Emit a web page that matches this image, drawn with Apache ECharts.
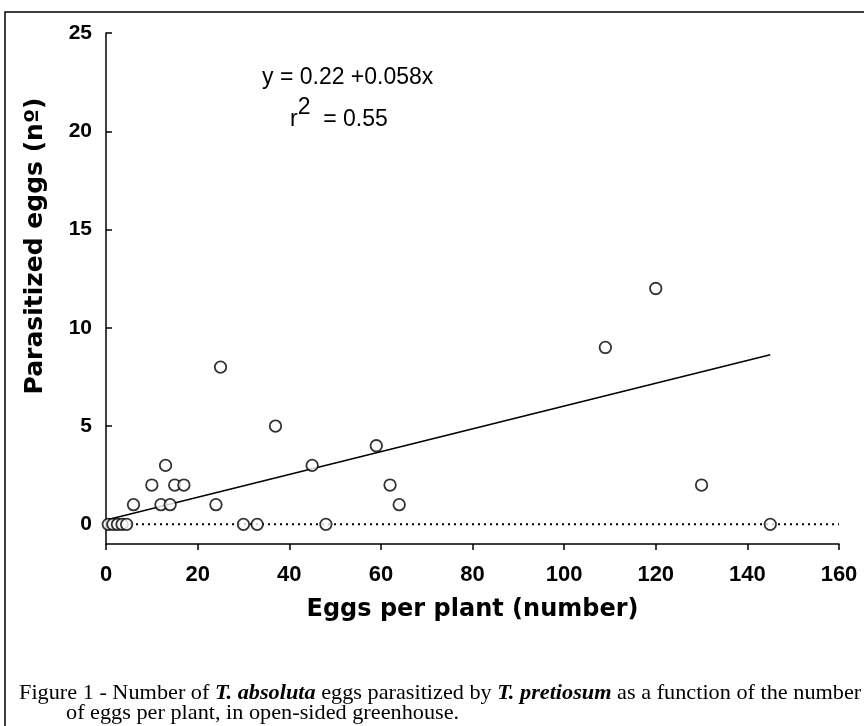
<!DOCTYPE html>
<html>
<head>
<meta charset="utf-8">
<script src="https://cdn.jsdelivr.net/npm/echarts@6/dist/echarts.min.js"></script>
<style>
  html, body { margin: 0; padding: 0; background: #fff; }
  #chart { width: 864px; height: 726px; }
</style>
</head>
<body>
<div id="chart"></div>
<script>
// eggs per plant vs parasitized eggs
var eggsPerPlant = [0.5, 1.5, 2.5, 3.5, 4.5, 6, 10, 12, 13, 14, 15, 17, 24, 25, 30, 33, 37, 45, 48, 59, 62, 64, 109, 120, 130, 145];
var parasitized  = [0, 0, 0, 0, 0, 1, 2, 1, 3, 1, 2, 2, 1, 8, 0, 0, 5, 3, 0, 4, 2, 1, 9, 12, 2, 0];
// end points of the fitted line y = 0.22 + 0.058x
var fitX = [0.5, 145];
var fitY = [0.25, 8.63];
var zeroX = [0, 160];
var zeroY = [0, 0];
var yTicks = [0, 5, 10, 15, 20, 25];

var chart = echarts.init(document.getElementById('chart'));

var points = eggsPerPlant.map(function (x, i) { return [x, parasitized[i]]; });
var fitLine = fitX.map(function (x, i) { return [x, fitY[i]]; });
var zeroLine = zeroX.map(function (x, i) { return [x, zeroY[i]]; });

var option = {
  animation: false,
  textStyle: { fontFamily: 'Liberation Sans', color: '#000' },
  grid: {
    left: 106,
    right: 25,
    top: 33,
    bottom: 182
  },
  xAxis: {
    type: 'value',
    min: 0,
    max: 160,
    interval: 20,
    name: 'Eggs per plant (number)',
    nameLocation: 'middle',
    nameGap: 54,
    nameTextStyle: { fontFamily: 'DejaVu Sans', fontSize: 24, fontWeight: 'bold', color: '#000' },
    axisLine: { onZero: false, lineStyle: { color: '#000', width: 1.5 } },
    axisTick: { inside: false, length: 6, lineStyle: { color: '#000', width: 1.5 } },
    axisLabel: { margin: 20, fontSize: 22, fontWeight: 'bold', color: '#000' },
    splitLine: { show: false }
  },
  yAxis: {
    type: 'value',
    min: -1,
    max: 25,
    axisLine: { show: true, onZero: false, lineStyle: { color: '#000', width: 1.5 } },
    axisTick: { show: true, inside: true, length: 6, customValues: yTicks, lineStyle: { color: '#000', width: 1.5 } },
    axisLabel: { margin: 14, fontSize: 21, fontWeight: 'bold', color: '#000', customValues: yTicks },
    splitLine: { show: false }
  },
  series: [
    {
      type: 'line',
      data: zeroLine,
      symbol: 'none',
      lineStyle: { color: '#000', width: 2, type: [2, 4] },
      z: 1
    },
    {
      type: 'line',
      data: fitLine,
      symbol: 'none',
      lineStyle: { color: '#000', width: 1.6 },
      z: 2
    },
    {
      type: 'scatter',
      data: points,
      symbol: 'circle',
      symbolSize: 11.5,
      itemStyle: { color: '#fff', borderColor: '#000', borderWidth: 1.8 },
      z: 3
    }
  ],
  graphic: [
    {
      type: 'rect',
      shape: { x: 5, y: 12, width: 880, height: 740 },
      style: { fill: null, stroke: '#000', lineWidth: 1.5 },
      silent: true
    },
    {
      type: 'text',
      x: 262, y: 66,
      style: { text: 'y = 0.22 +0.058x', font: '23px "Liberation Sans"', fill: '#000' }
    },
    {
      type: 'text',
      x: 290, y: 96,
      style: {
        text: '{r|r}{s|2}{t|  = 0.55}',
        fill: '#000',
        rich: {
          r: { font: '23px "Liberation Sans"', padding: [12, 0, 0, 0] },
          s: { font: '23px "Liberation Sans"', padding: [0, 0, 12, 0] },
          t: { font: '23px "Liberation Sans"', padding: [12, 0, 0, 0] }
        }
      }
    },
    {
      type: 'text',
      x: 35, y: 246,
      rotation: Math.PI / 2,
      style: {
        text: 'Parasitized eggs (nº)',
        font: 'bold 25px "DejaVu Sans"',
        fill: '#000',
        align: 'center',
        verticalAlign: 'middle'
      }
    },
    {
      type: 'text',
      x: 19, y: 683,
      scaleX: 1.06,
      style: {
        text: 'Figure 1 - Number of {b|T. absoluta} eggs parasitized by {b|T. pretiosum} as a function of the number',
        font: '21px "Liberation Serif"',
        fill: '#000',
        rich: {
          b: { font: 'italic bold 21px "Liberation Serif"' }
        }
      }
    },
    {
      type: 'text',
      x: 66, y: 703,
      scaleX: 1.06,
      style: {
        text: 'of eggs per plant, in open-sided greenhouse.',
        font: '21px "Liberation Serif"',
        fill: '#000'
      }
    }
  ]
};

chart.setOption(option);
</script>
</body>
</html>
